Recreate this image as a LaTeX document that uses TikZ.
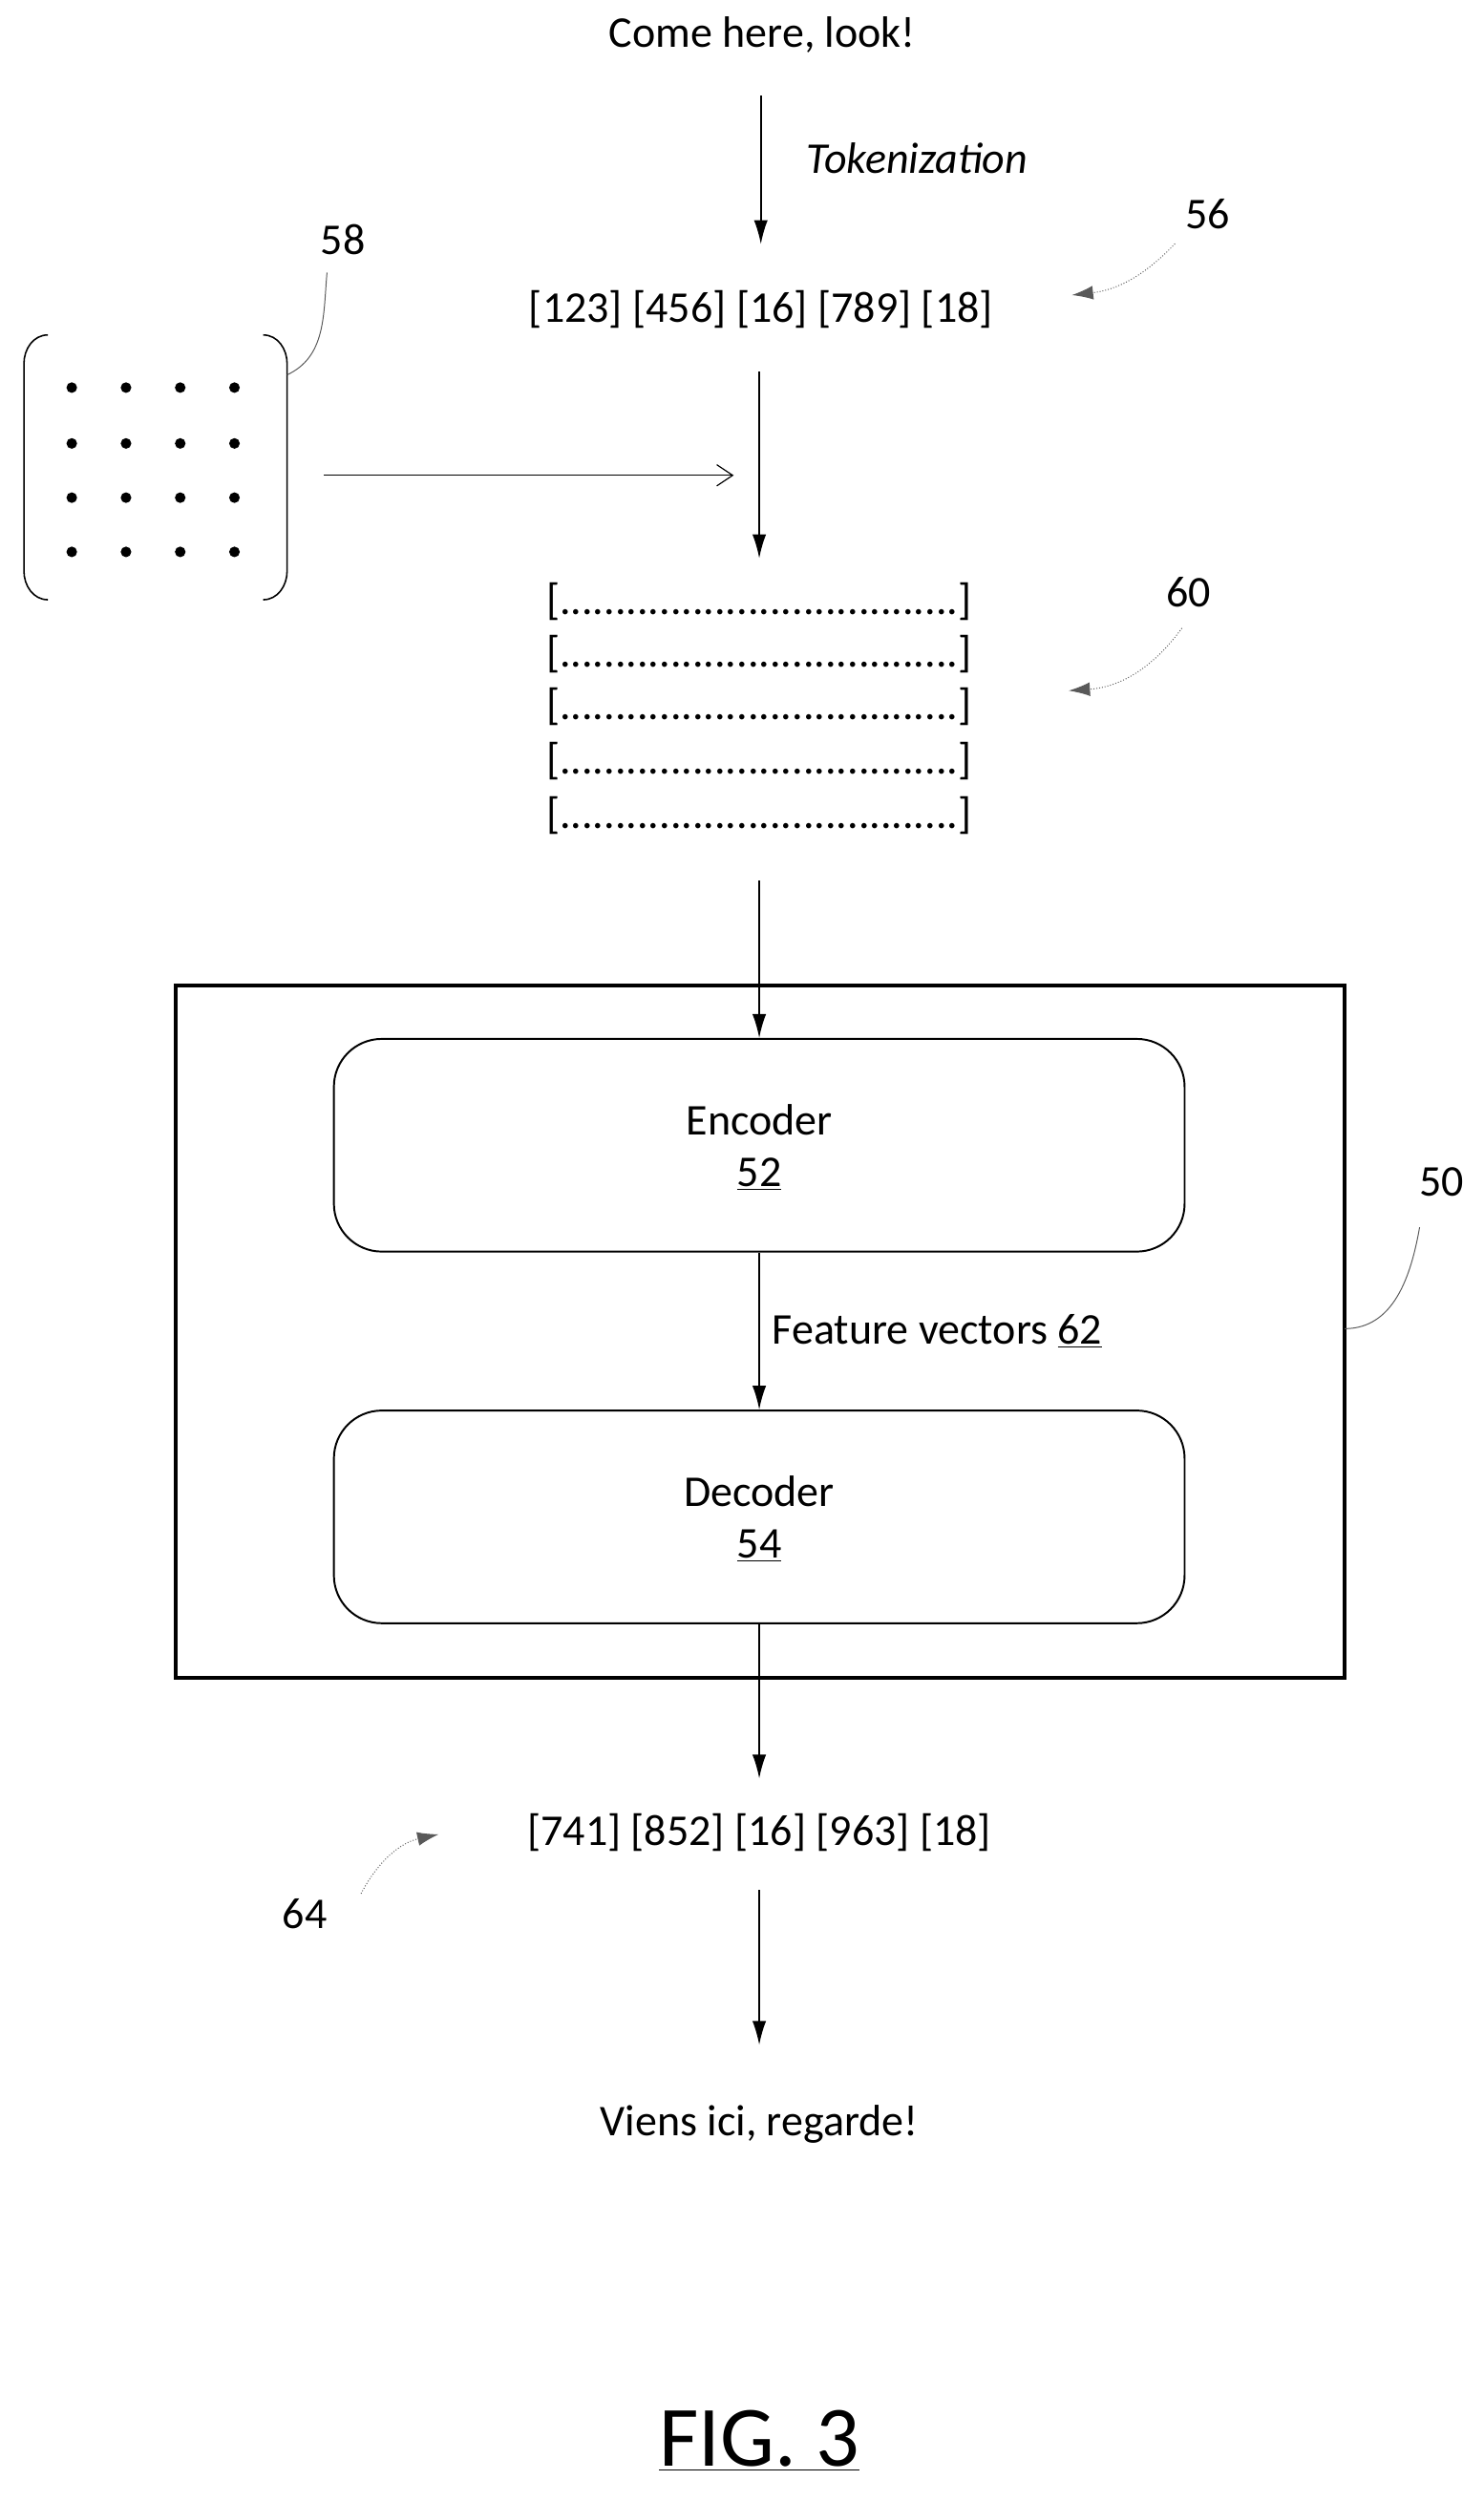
\documentclass[tikz,border=0pt]{standalone}
\usepackage{fontspec}
\setmainfont{Carlito}
\usetikzlibrary{positioning,arrows.meta}
\begin{document}
\begin{tikzpicture}[x=0.3mm,y=-0.3mm,
        txt/.style={font=\fontsize{23.5}{28}\selectfont, inner sep=1pt},
        flow/.style={-{Latex[length=4.5mm,width=2.6mm]}, line width=0.8pt},
        lead/.style={line width=0.5pt, gray!70!black},
        pointer/.style={-{Latex[length=4mm,width=2.6mm]}, line width=0.5pt, gray!70!black, densely dotted},
        block/.style={draw, line width=1pt, rounded corners=9mm, minimum width=160mm, minimum height=40mm},
    ]
    \useasboundingbox (0,0) rectangle (930,1568);

    % Texts
    \node[txt] (src) at (478,22) {Come here, look!};
    \node[txt] (tok) at (477,194) {[123] [456] [16] [789] [18]};
    \node[txt, font=\fontsize{23.5}{28}\selectfont\itshape] (tokz) at (575,99) {Tokenization};
    \node[txt] (l56) at (757,134) {56};
    \node[txt] (l58) at (215,150) {58};
    \node[txt] (l60) at (745,371) {60};
    \node[txt] (l50) at (904,741) {50};
    \node[txt] (l64) at (191,1200) {64};

    % Matrix 58
    \draw[line width=0.8pt] (30,210) to[out=180,in=90] (15,228) -- (15,358) to[out=-90,in=180] (30,376);
    \draw[line width=0.8pt] (165,210) to[out=0,in=90] (180,228) -- (180,358) to[out=-90,in=0] (165,376);
    \foreach \x in {45,79,113,147}
        \foreach \y in {243,278,312,346}
            \fill (\x,\y) circle (1mm);
    \coordinate (mat) at (180,235);

    % Embedding rows 60
    \foreach \r [count=\i] in {377,410,443,477,511}
        \node[txt] (row\i) at (476,\r) {[....................................]};

    % Model 50
    \draw[line width=2pt] (110,618) rectangle (843,1052);
    \coordinate (box) at (843,833);
    \node[block] (enc) at (476,718) {};
    \node[txt] (encT) at (476,702) {Encoder};
    \node[txt] (encN) at (476,736) {\underline{52}};
    \node[block] (dec) at (476,951) {};
    \node[txt] (decT) at (476,935) {Decoder};
    \node[txt] (decN) at (476,969) {\underline{54}};

    \node[txt] (out) at (476,1149) {[741] [852] [16] [963] [18]};
    \node[txt] (dst) at (476,1332) {Viens ici, regarde!};
    \node[font=\fontsize{46}{54}\selectfont] (fig) at (476,1530) {\underline{FIG. 3}};

    % Flow
    \draw[flow] (477,60) -- (477,153);
    \draw[flow] (476,233) -- (476,350);
    \draw[-{Straight Barb[length=3mm,width=4mm]}, line width=0.6pt] (203,298) -- (460,298);
    \draw[flow] (476,552) -- (enc.north);
    \draw[flow] (enc.south) -- (dec.north) node[txt, midway, right=2mm] {Feature vectors \underline{62}};
    \draw[flow] (dec.south) -- (476,1115);
    \draw[flow] (476,1185) -- (476,1282);

    % Leaders
    \draw[pointer] (l56.south west) ++(-5,8) to[bend left=20] (672,185);
    \draw[pointer] (l60.south) ++(-4,12) to[bend left=25] (670,433);
    \draw[pointer] (l64.north east) ++(20,-2) to[bend left=25] (275,1150);
    \draw[lead] (l58.south) ++(-10,10) to[out=-95,in=25] (mat);
    \draw[lead] (l50.south) ++(-14,18) to[out=-100,in=0] (box);
\end{tikzpicture}
\end{document}
